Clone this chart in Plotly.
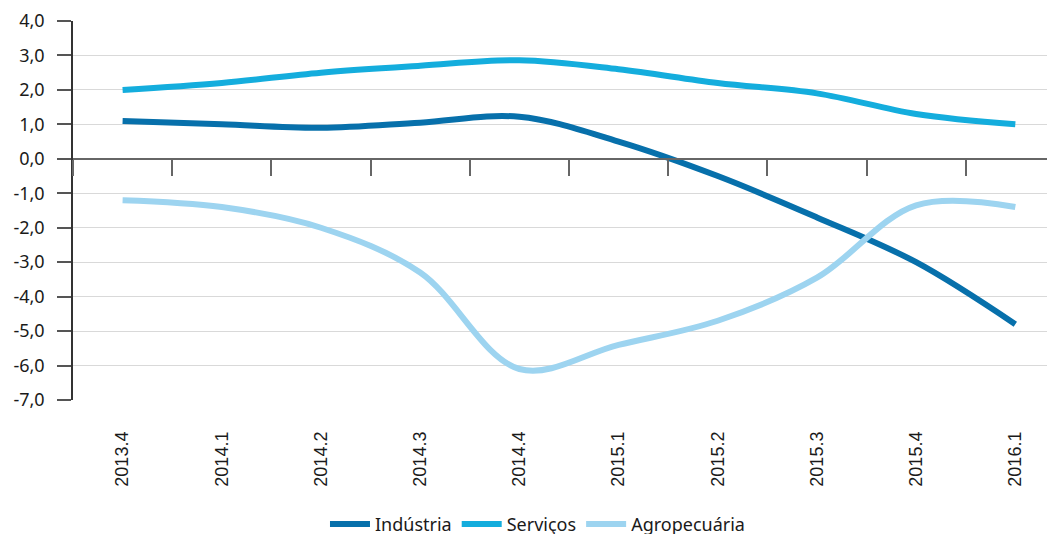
import plotly.graph_objects as go

categories = ["2013.4", "2014.1", "2014.2", "2014.3", "2014.4",
              "2015.1", "2015.2", "2015.3", "2015.4", "2016.1"]
industria = [1.1, 1.0, 0.9, 1.05, 1.22, 0.5, -0.5, -1.7, -3.0, -4.8]
servicos = [2.0, 2.2, 2.5, 2.7, 2.86, 2.6, 2.2, 1.9, 1.3, 1.0]
agropecuaria = [-1.2, -1.4, -2.0, -3.3, -6.1, -5.4, -4.7, -3.45, -1.35, -1.4]

ytick_vals = [4, 3, 2, 1, 0, -1, -2, -3, -4, -5, -6, -7]
ytick_text = ["4,0", "3,0", "2,0", "1,0", "0,0", "-1,0", "-2,0", "-3,0",
              "-4,0", "-5,0", "-6,0", "-7,0"]

series = [
    ("Indústria", industria, "#0770ab"),
    ("Serviços", servicos, "#14addd"),
    ("Agropecuária", agropecuaria, "#9dd4f0"),
]

fig = go.Figure()
for name, vals, color in series:
    fig.add_trace(go.Scatter(
        x=categories, y=vals, name=name, mode="lines",
        line=dict(color=color, width=6, shape="spline", smoothing=1.0),
    ))

# dummy trace to activate the zero-line axis
fig.add_trace(go.Scatter(x=[None], y=[None], xaxis="x2", showlegend=False,
                         hoverinfo="skip"))

ymin, ymax = -7, 4
fig.update_layout(
    width=1055, height=534,
    margin=dict(l=65, r=8, t=13, b=142, autoexpand=False),
    paper_bgcolor="white", plot_bgcolor="white",
    font=dict(family="Noto Sans", color="#1a1a1a"),
    showlegend=True,
    legend=dict(orientation="h", x=0.473, xanchor="center", y=-0.279,
                yanchor="top", font=dict(size=18, family="Noto Sans"),
                itemwidth=40, tracegroupgap=0),
    xaxis=dict(
        type="category", categoryarray=categories, range=[-0.5, 9.4],
        showgrid=False, showline=False, zeroline=False, ticks="",
        tickangle=-90, tickfont=dict(family="Liberation Sans", size=18,
                                     color="#1a1a1a"),
        ticklabelstandoff=27, automargin=False,
    ),
    xaxis2=dict(
        overlaying="x", anchor="free", position=(0 - ymin) / (ymax - ymin),
        range=[-0.5, 9.4], tick0=-0.5, dtick=1, showticklabels=False,
        showgrid=False, zeroline=False, showline=True, linecolor="#666666",
        linewidth=1.5, ticks="outside", ticklen=16, tickwidth=1.5,
        tickcolor="#666666", automargin=False,
    ),
    yaxis=dict(
        range=[ymin, ymax], tickvals=ytick_vals, ticktext=ytick_text,
        showgrid=True, gridcolor="#d9d9d9", gridwidth=1,
        zeroline=False, showline=True, linecolor="#333333", linewidth=1.5,
        ticks="outside", ticklen=14, tickcolor="#555555", tickwidth=1.5,
        tickfont=dict(family="Noto Sans", size=18, color="#1a1a1a"),
        ticklabelstandoff=9, automargin=False,
    ),
)

fig.write_html("out.html")
